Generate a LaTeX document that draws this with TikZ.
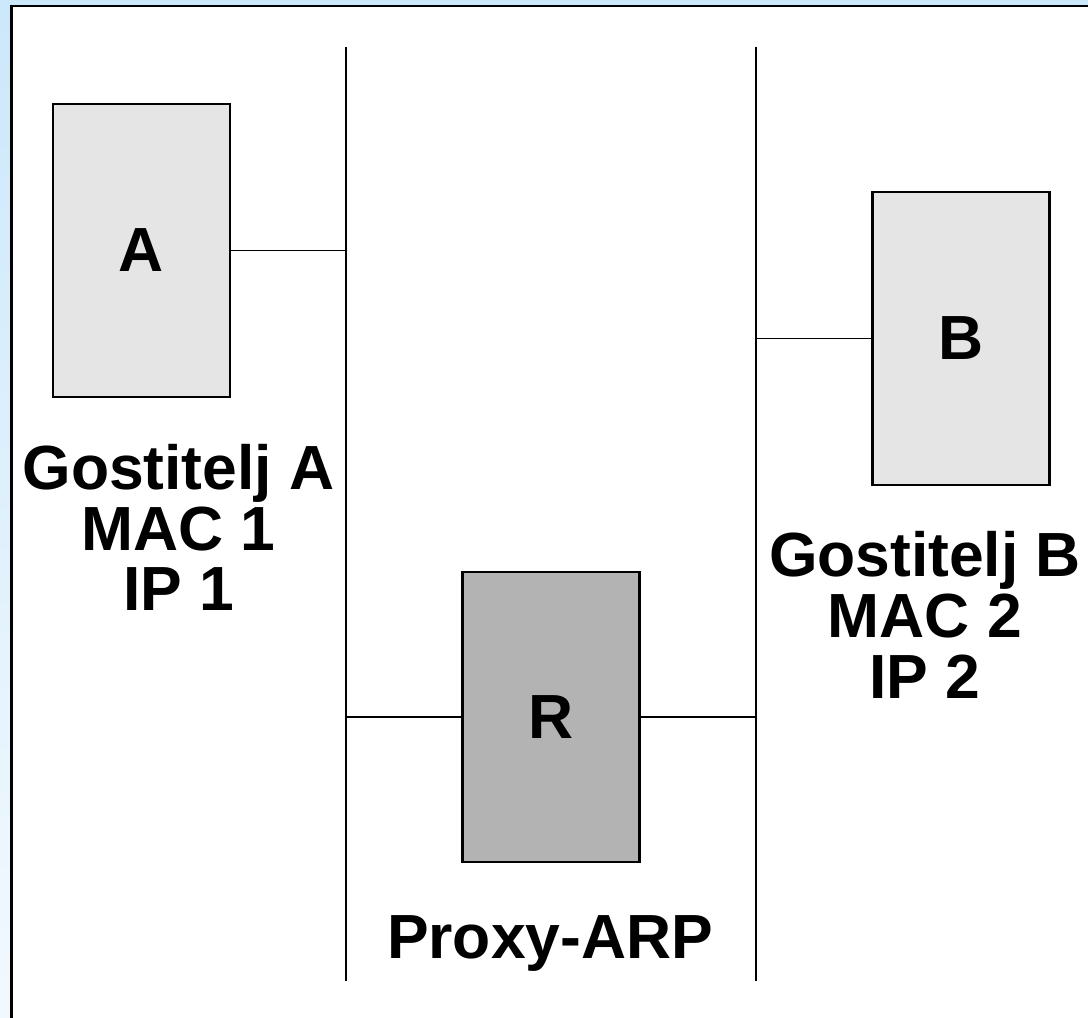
\documentclass[tikz,border=0pt]{standalone}
\usepackage{fontspec}
\setmainfont{Liberation Sans}
\usepackage{xcolor}
\usepackage{tikz}
\usetikzlibrary{calc,positioning}
\definecolor{bandtop}{HTML}{CCE8FB}
\definecolor{bandbot}{HTML}{F2F9FE}
\definecolor{hostgray}{HTML}{E5E5E5}
\definecolor{routergray}{HTML}{B3B3B3}
\newcommand{\bigbold}{\fontsize{35.5}{34.6}\selectfont\bfseries}

\begin{document}
\begin{tikzpicture}[
  host/.style={draw=black,line width=1.3pt,fill=hostgray,minimum width=3.54cm,minimum height=5.86cm,font=\bigbold,inner sep=0pt},
  router/.style={host,fill=routergray,minimum height=5.8cm},
  bus/.style={line width=0.85pt},
  link/.style={line width=0.85pt},
  caption/.style={align=center,font=\bigbold,inner sep=0pt}
]
  \useasboundingbox (0,0) rectangle (21.76,-20.34);
  % background frame
  \shade[top color=bandtop,bottom color=bandbot] (0,0) rectangle (21.76,-20.34);
  \fill[white] (0.23,-0.12) rectangle (21.9,-20.5);
  \draw[line width=1.6pt] (0.23,-20.5) -- (0.23,-0.12) -- (21.9,-0.12);
  % the two segments
  \coordinate (bus1top) at (6.92,-0.94);
  \coordinate (bus1bot) at (6.92,-19.62);
  \coordinate (bus2top) at (15.12,-0.94);
  \coordinate (bus2bot) at (15.12,-19.62);
  \draw[bus] (bus1top) -- (bus1bot);
  \draw[bus] (bus2top) -- (bus2bot);
  % hosts and router
  \node[host] (hostA) at (2.83,-5.01) {A};
  \node[host] (hostB) at (19.22,-6.77) {B};
  \node[router] (proxy) at (11.02,-14.34) {R};
  \draw[link] (hostA.east) -- (hostA.east -| bus1top);
  \draw[link] (hostB.west) -- (hostB.west -| bus2top);
  \draw[link] (proxy.west) -- (proxy.west -| bus1top);
  \draw[link] (proxy.east) -- (proxy.east -| bus2top);
  % captions
  \node[caption] (capA) at (3.57,-10.55) {Gostitelj A\\MAC 1\\IP 1};
  \node[caption] (capB) at (18.5,-12.3) {Gostitelj B\\MAC 2\\IP 2};
  \node[caption] (capR) at (11.0,-18.86) {Proxy-ARP};
\end{tikzpicture}
\end{document}
